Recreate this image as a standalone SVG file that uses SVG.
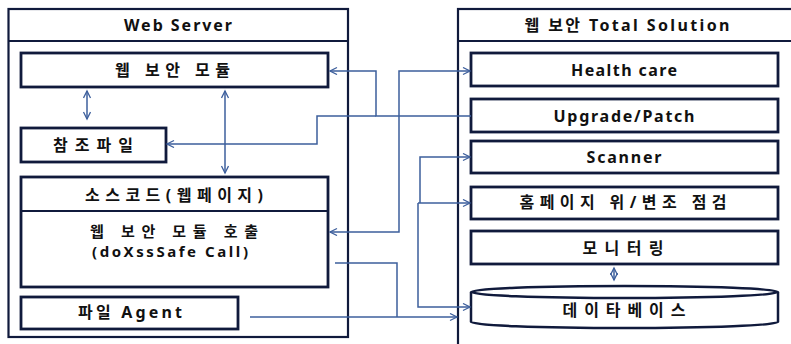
<svg xmlns="http://www.w3.org/2000/svg" width="791" height="344" viewBox="0 0 791 344">
<defs>
<style>
.outer{fill:#fff;stroke:#101a3c;stroke-width:2.2}
.box{fill:#fff;stroke:#101a3c;stroke-width:2.8}
.t{font-family:"Noto Sans","Noto Sans CJK KR",sans-serif;font-weight:bold;font-size:16px;fill:#111;text-anchor:middle}
.s{font-size:15px}
.c{fill:none;stroke:#3d5f9c;stroke-width:1.5}
</style>
<marker id="ah" markerUnits="userSpaceOnUse" markerWidth="10" markerHeight="10" refX="8" refY="4" orient="auto-start-reverse">
<path d="M1,0.5 L8,4 L1,7.5" fill="none" stroke="#3d5f9c" stroke-width="1.3"/>
</marker>
</defs>
<rect width="791" height="344" fill="#fff"/>

<g id="web-server">
<rect class="outer" x="8.5" y="9" width="339.5" height="328"/>
<line x1="8.5" y1="41" x2="348" y2="41" stroke="#101a3c" stroke-width="2"/>
<text class="t" x="178" y="31" textLength="108" lengthAdjust="spacing">Web Server</text>
</g>
<g id="web-module">
<rect class="box" x="21" y="53" width="307" height="34"/>
<text class="t" x="172.5" y="76" textLength="115" lengthAdjust="spacing">웹 보안 모듈</text>
</g>
<g id="ref-file">
<rect class="box" x="21" y="128" width="145" height="34"/>
<text class="t" x="93" y="151" textLength="80" lengthAdjust="spacing">참조파일</text>
</g>
<g id="source-code">
<rect class="box" x="21" y="177" width="307" height="110"/>
<line x1="21" y1="211" x2="328" y2="211" stroke="#101a3c" stroke-width="2"/>
<text class="t" x="174" y="201" textLength="178" lengthAdjust="spacing">소스코드(웹페이지)</text>
<text class="t s" x="174" y="237" textLength="168" lengthAdjust="spacing">웹 보안 모듈 호출</text>
<text class="t s" x="170" y="257" textLength="156" lengthAdjust="spacing">(doXssSafe Call)</text>
</g>
<g id="file-agent">
<rect class="box" x="21" y="297" width="217" height="32"/>
<text class="t" x="130" y="318" textLength="104" lengthAdjust="spacing">파일 Agent</text>
</g>

<g id="total-solution">
<rect class="outer" x="458" y="9" width="340" height="345"/>
<line x1="458" y1="41" x2="798" y2="41" stroke="#101a3c" stroke-width="2"/>
<text class="t" x="627" y="31" textLength="205" lengthAdjust="spacing">웹 보안 Total Solution</text>
</g>
<g id="health-care">
<rect class="box" x="471" y="53" width="307" height="33"/>
<text class="t" x="624" y="76" textLength="106" lengthAdjust="spacing">Health care</text>
</g>
<g id="upgrade-patch">
<rect class="box" x="471" y="99" width="307" height="33"/>
<text class="t" x="624" y="122" textLength="141" lengthAdjust="spacing">Upgrade/Patch</text>
</g>
<g id="scanner">
<rect class="box" x="471" y="141" width="307" height="32"/>
<text class="t" x="624" y="163" textLength="75" lengthAdjust="spacing">Scanner</text>
</g>
<g id="homepage-check">
<rect class="box" x="471" y="187" width="307" height="32"/>
<text class="t" x="623" y="208" textLength="207" lengthAdjust="spacing">홈페이지 위/변조 점검</text>
</g>
<g id="monitoring">
<rect class="box" x="471" y="231" width="307" height="33"/>
<text class="t" x="623" y="254" textLength="81" lengthAdjust="spacing">모니터링</text>
</g>
<g id="database">
<path d="M471,292 V322 A153.5,6 0 0 0 778,322 V292" fill="#fff" stroke="#101a3c" stroke-width="2.5"/>
<ellipse cx="624.5" cy="292" rx="153.5" ry="6" fill="#fff" stroke="#101a3c" stroke-width="2.5"/>
<text class="t" x="624" y="316" textLength="123" lengthAdjust="spacing">데이타베이스</text>
</g>

<g id="connectors">
<path class="c" d="M471,116 H376 V71 H330" marker-end="url(#ah)"/>
<path class="c" d="M376,116 H317 V144 H167" marker-end="url(#ah)"/>
<path class="c" d="M330,232 H399 V71 H470" marker-start="url(#ah)" marker-end="url(#ah)"/>
<path class="c" d="M420,203 V157 H470" marker-end="url(#ah)"/>
<path class="c" d="M418,203 H470" marker-end="url(#ah)"/>
<path class="c" d="M418,203 V307 H470" marker-end="url(#ah)"/>
<path class="c" d="M335,263 H397 V317"/>
<path class="c" d="M250,317 H457" marker-end="url(#ah)"/>
<path class="c" d="M87,91 V119" marker-start="url(#ah)" marker-end="url(#ah)"/>
<path class="c" d="M225,91 V173" marker-start="url(#ah)" marker-end="url(#ah)"/>
<path class="c" d="M614,268 V280" marker-start="url(#ah)" marker-end="url(#ah)"/>
</g>
</svg>
